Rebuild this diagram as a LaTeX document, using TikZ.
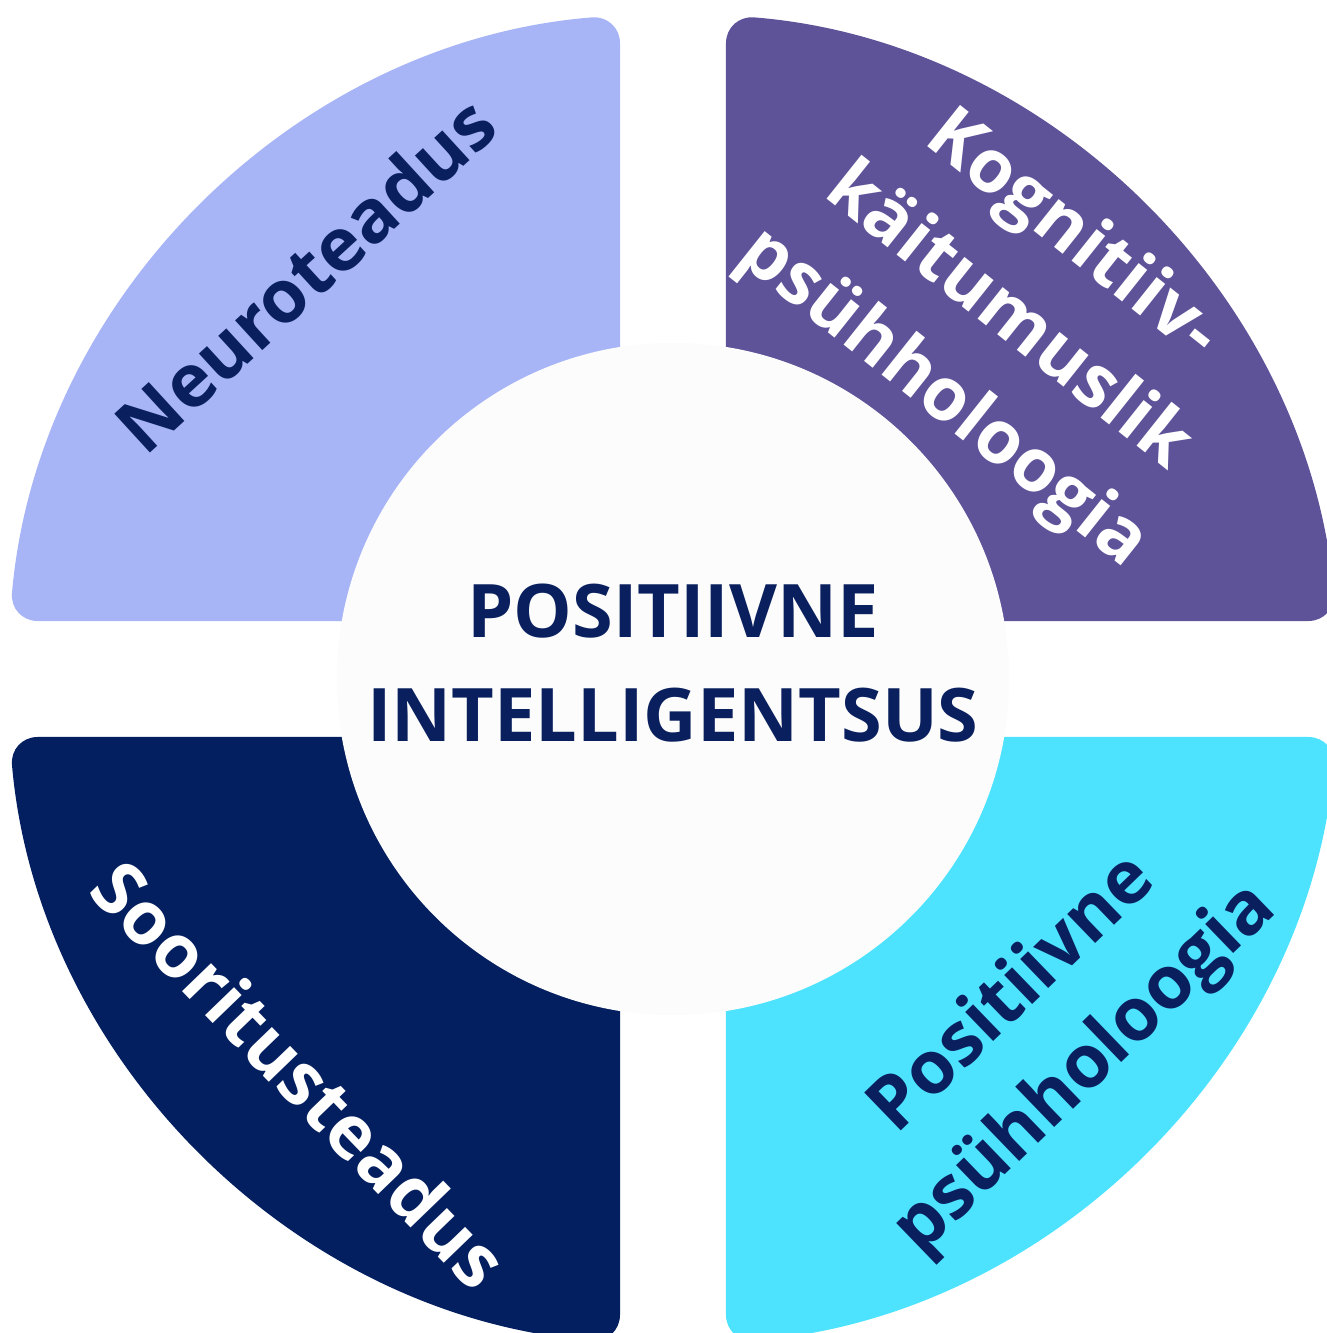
\documentclass[tikz,border=0pt]{standalone}
\usepackage{fontspec}
\setmainfont{Open Sans}
\usepackage{tikz}

\definecolor{neuro}{HTML}{A7B5F7}
\definecolor{kogn}{HTML}{5E5399}
\definecolor{soor}{HTML}{041F5F}
\definecolor{posit}{HTML}{4DE3FE}
\definecolor{ink}{HTML}{0A1F5E}
\definecolor{core}{HTML}{FCFCFC}

\tikzset{
  ringtext/.style={font=\bfseries\fontsize{21}{29.5}\selectfont, align=center, inner sep=0pt},
}

\begin{document}
\begin{tikzpicture}[x=0.01cm,y=0.01cm]
  \def\R{666}  % outer radius
  \def\r{300}  % inner radius, hidden under the middle disc
  \def\gx{53}  % half of the vertical gap
  \def\gy{58}  % half of the horizontal gap
  \pgfmathsetmacro\ao{asin(\gy/\R)}
  \pgfmathsetmacro\bo{asin(\gx/\R)}
  \pgfmathsetmacro\ai{asin(\gy/\r)}
  \pgfmathsetmacro\bi{asin(\gx/\r)}

  \useasboundingbox (-673,-654) rectangle (654,679);
  \clip (-673,-654) rectangle (654,679);

  % four quarter rings, one shape mirrored into each quadrant
  \foreach \sx/\sy/\col in {-1/1/neuro,1/1/kogn,-1/-1/soor,1/-1/posit}{
    \begin{scope}[xscale=\sx,yscale=\sy]
      \fill[\col,rounded corners=8] (\ai:\r) -- (\ao:\R)
        arc[start angle=\ao,end angle=90-\bo,radius=\R]
        -- (90-\bi:\r)
        arc[start angle=90-\bi,end angle=\ai,radius=\r] -- cycle;
    \end{scope}
  }

  % middle disc
  \node[circle,fill=core,minimum size=6.72cm,inner sep=0pt] (core) at (0,0) {};
  \node[ringtext,text=ink] (title) at (0,16) {POSITIIVNE\\INTELLIGENTSUS};

  \node[ringtext,text=ink,rotate=42.5] (neurolbl) at (-368,405) {Neuroteadus};
  \node[ringtext,text=white,rotate=-38.5] (kognlbl) at (334,361)
    {Kognitiiv-\\käitumuslik\\psühholoogia};
  \node[ringtext,text=white,rotate=-46] (soorlbl) at (-373,-395) {Sooritusteadus};
  \node[ringtext,text=ink,rotate=44] (positlbl) at (377,-354)
    {Positiivne\\psühholoogia};
\end{tikzpicture}
\end{document}
